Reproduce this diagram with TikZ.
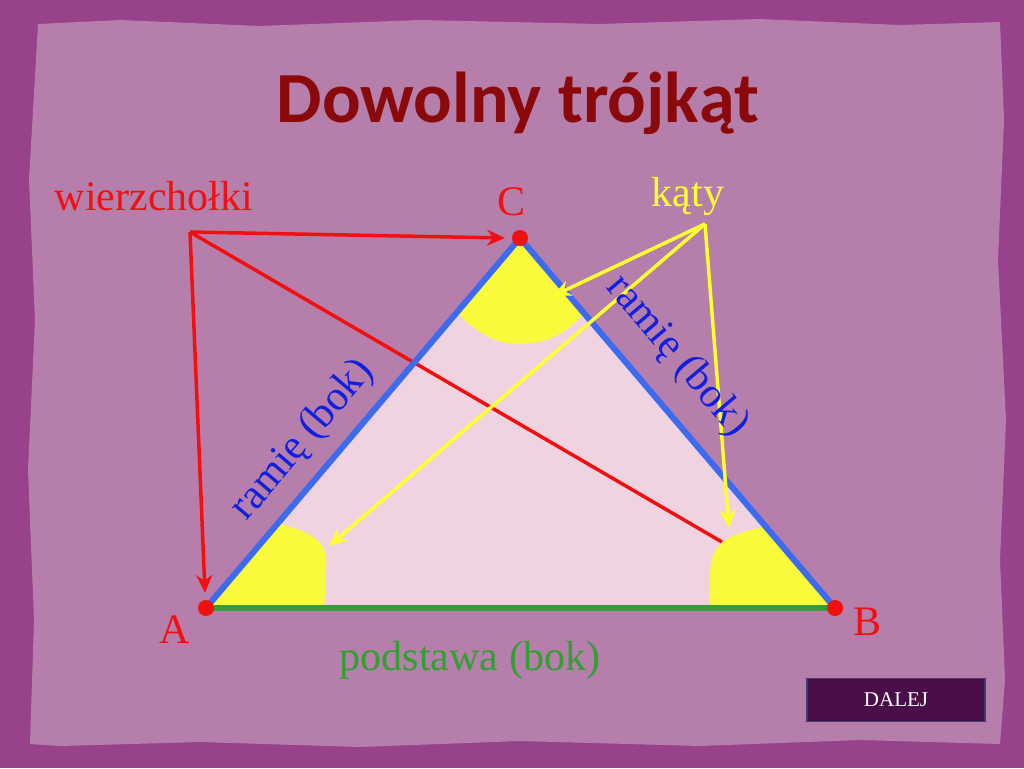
\documentclass[tikz,border=0pt]{standalone}
\usepackage{fontspec}
\setmainfont{Liberation Serif}
\newfontfamily\titlefont{Carlito}
\usetikzlibrary{arrows.meta}
\definecolor{outerbg}{HTML}{97428A}
\definecolor{paper}{HTML}{B67EAB}
\definecolor{trifill}{HTML}{EFD3E0}
\definecolor{wedge}{HTML}{FAFA3C}
\definecolor{sideblue}{HTML}{3D6BF0}
\definecolor{basegreen}{HTML}{3A9A3A}
\definecolor{vred}{HTML}{F01010}
\definecolor{titlered}{HTML}{8A0A0C}
\definecolor{kyellow}{HTML}{FFFF30}
\definecolor{lblblue}{HTML}{1020E0}
\definecolor{lblgreen}{HTML}{30A030}
\definecolor{btnfill}{HTML}{4A0E48}
\definecolor{btnedge}{HTML}{3C3C70}
\tikzset{
  lbl/.style={inner sep=0pt, font=\fontsize{42}{46}\selectfont},
  vertexdot/.style={circle, fill=vred, minimum size=16pt, inner sep=0pt},
  redarrow/.style={draw=vred, line width=3.5pt, -{Stealth[length=18pt,width=16pt]}},
  yelarrow/.style={draw=kyellow, line width=3.5pt, -{Stealth[length=18pt,width=16pt]}},
}
\begin{document}
\begin{tikzpicture}[x=1pt,y=-1pt]
\useasboundingbox (0,0) rectangle (1024,768);
% background
\fill[outerbg] (0,0) rectangle (1024,768);
\fill[paper] (38,24) -- (120,20) -- (260,26) -- (420,20) -- (600,24) -- (760,19) -- (900,25) -- (1000,22)
  -- (1004,120) -- (998,260) -- (1006,420) -- (1000,560) -- (1005,680) -- (1000,744)
  -- (860,740) -- (700,746) -- (520,741) -- (360,747) -- (200,742) -- (60,746) -- (30,744)
  -- (34,620) -- (28,470) -- (35,320) -- (29,180) -- cycle;
% title
\node[font=\titlefont\bfseries\fontsize{72}{80}\selectfont, text=titlered, inner sep=0pt] (title) at (518,103) {Dowolny trójkąt};
% triangle
\coordinate (A) at (206,608);
\coordinate (B) at (835,608);
\coordinate (C) at (520,238);
\fill[trifill] (A) -- (B) -- (C) -- cycle;
% labels
\node[lbl, text=vred] (wlabel) at (154,196) {wierzchołki};
\node[lbl, text=kyellow] (klabel) at (688,196) {kąty};
\coordinate (wpt) at (190,232);
\coordinate (kpt) at (705,224);
% red arrows
\draw[redarrow] (wpt) -- (505,238);
\draw[redarrow] (wpt) -- (205,593);
\coordinate (bend) at (722,542);
\draw[vred, line width=3.5pt] (wpt) -- (bend);
% yellow wedges
\begin{scope}
\clip (A) -- (B) -- (C) -- cycle;
\fill[wedge] (450,300) -- (462,318) .. controls (485,338) and (500,344) .. (520,344)
  .. controls (550,344) and (570,330) .. (585,312) -- (600,290) -- (520,230) -- cycle;
\fill[wedge] (200,612) -- (324,612) -- (326,570) .. controls (328,548) and (322,540) .. (300,530) -- (270,520) -- cycle;
\fill[wedge] (840,612) -- (709,612) -- (710,575) .. controls (710,545) and (725,535) .. (760,528) -- (790,520) -- cycle;
\end{scope}
% sides
\draw[sideblue, line width=6pt] (A) -- (C) -- (B);
\draw[basegreen, line width=6pt] (A) -- (B);
% yellow arrows
\draw[yelarrow] (kpt) -- (553,296);
\draw[yelarrow] (kpt) -- (329,546);
\draw[yelarrow] (kpt) -- (729,528);
% vertex dots
\node[vertexdot] (dA) at (A) {};
\node[vertexdot] (dB) at (B) {};
\node[vertexdot] (dC) at (C) {};
\node[lbl, text=vred] (lA) at (175,630) {A};
\node[lbl, text=vred] (lB) at (867,622) {B};
\node[lbl, text=vred] (lC) at (511,202) {C};
% side labels
\node[lbl, text=lblblue, rotate=49.7] (ls) at (303,440) {ramię (bok)};
\node[lbl, text=lblblue, rotate=-49.7] (rs) at (677,356) {ramię (bok)};
\node[lbl, text=lblgreen] (bs) at (470,660) {podstawa (bok)};
% button
\node[draw=btnedge, line width=1.5pt, fill=btnfill, minimum width=178pt, minimum height=43pt, inner sep=0pt,
  text=white, font=\fontsize{21}{24}\selectfont] (dalej) at (896,700) {DALEJ};
\end{tikzpicture}
\end{document}
